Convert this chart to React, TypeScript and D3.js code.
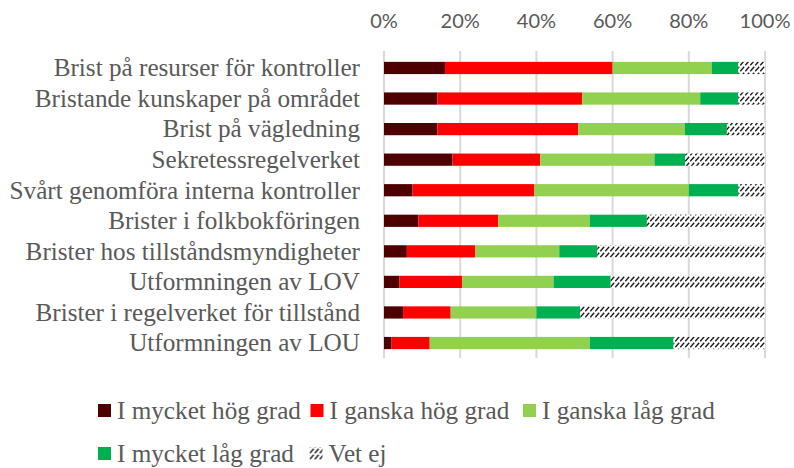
import React from "react";
import * as d3 from "d3";

const categories = [
  "Brist på resurser för kontroller",
  "Bristande kunskaper på området",
  "Brist på vägledning",
  "Sekretessregelverket",
  "Svårt genomföra interna kontroller",
  "Brister i folkbokföringen",
  "Brister hos tillståndsmyndigheter",
  "Utformningen av LOV",
  "Brister i regelverket för tillstånd",
  "Utformningen av LOU",
];

const seriesNames = [
  "I mycket hög grad",
  "I ganska hög grad",
  "I ganska låg grad",
  "I mycket låg grad",
  "Vet ej",
];

const mycketHog = [16, 14, 14, 18, 7.5, 9, 6, 4, 5, 2];
const ganskaHog = [44, 38, 37, 23, 32, 21, 18, 16.5, 12.5, 10];
const ganskaLag = [26, 31, 28, 30, 40.5, 24, 22, 24, 22.5, 42];
const mycketLag = [7, 10, 11, 8, 13, 15, 10, 15, 11.5, 22];
const vetEj = [7, 7, 10, 21, 7, 31, 44, 40.5, 48.5, 24];

const tickValues = [0, 0.2, 0.4, 0.6, 0.8, 1];

const colors = ["#4e0000", "#ff0000", "#92d050", "#00b050", "url(#hatch)"];

const W = 794;
const H = 468;

export default function App() {
  const keys = seriesNames;
  const rows = categories.map((c, i) => ({
    cat: c,
    [keys[0]]: mycketHog[i],
    [keys[1]]: ganskaHog[i],
    [keys[2]]: ganskaLag[i],
    [keys[3]]: mycketLag[i],
    [keys[4]]: vetEj[i],
  }));
  const stacked = d3
    .stack<any>()
    .keys(keys)
    .offset(d3.stackOffsetExpand)(rows);

  const x = d3.scaleLinear().domain([0, 1]).range([384, 765]);
  const y = d3
    .scaleBand<string>()
    .domain(categories)
    .range([52.7, 358.3])
    .paddingInner(0.6)
    .paddingOuter(0.3);

  const labelFont = "'Liberation Serif', 'Times New Roman', serif";
  const textColor = "#595959";
  const labelSize = 25.2;

  const legendItems = [
    { x: 98, y: 411 },
    { x: 310.5, y: 411 },
    { x: 523, y: 411 },
    { x: 98, y: 454 },
    { x: 309.5, y: 454 },
  ];

  return (
    <svg
      width={W}
      height={H}
      style={{ position: "absolute", left: 0, top: 0, background: "#fff" }}
    >
      <defs>
        <pattern
          id="hatch"
          patternUnits="userSpaceOnUse"
          width={5}
          height={6}
        >
          <rect width={5} height={6} fill="#fff" />
          <path d="M0.3,5.2 L4.2,0.8" stroke="#1a1a1a" strokeWidth={1.3} />
        </pattern>
      </defs>

      {tickValues.map((t) => (
        <g key={t}>
          <line
            x1={x(t)}
            x2={x(t)}
            y1={51}
            y2={358}
            stroke="#d9d9d9"
            strokeWidth={2}
          />
          <text
            x={x(t)}
            y={28}
            textAnchor="middle"
            fontFamily="Lato, 'Open Sans', sans-serif"
            fontSize={20}
            fill={textColor}
          >
            {d3.format(".0%")(t)}
          </text>
        </g>
      ))}

      {stacked.map((s, si) => (
        <g key={s.key} fill={colors[si]}>
          {s.map((d, i) => (
            <rect
              key={i}
              x={x(d[0])}
              width={Math.max(0, x(d[1]) - x(d[0]))}
              y={y(categories[i])}
              height={y.bandwidth()}
            />
          ))}
        </g>
      ))}

      {categories.map((c) => (
        <text
          key={c}
          x={360}
          y={(y(c) as number) + y.bandwidth() / 2}
          dy="0.33em"
          textAnchor="end"
          fontFamily={labelFont}
          fontSize={labelSize}
          fill={textColor}
        >
          {c}
        </text>
      ))}

      {seriesNames.map((name, i) => (
        <g key={name} transform={`translate(${legendItems[i].x},${legendItems[i].y})`}>
          <rect
            x={0}
            y={-7}
            width={13}
            height={13}
            fill={colors[i]}
          />
          <text
            x={19}
            y={0}
            dy="0.33em"
            fontFamily={labelFont}
            fontSize={labelSize}
            fill={textColor}
          >
            {name}
          </text>
        </g>
      ))}
    </svg>
  );
}
